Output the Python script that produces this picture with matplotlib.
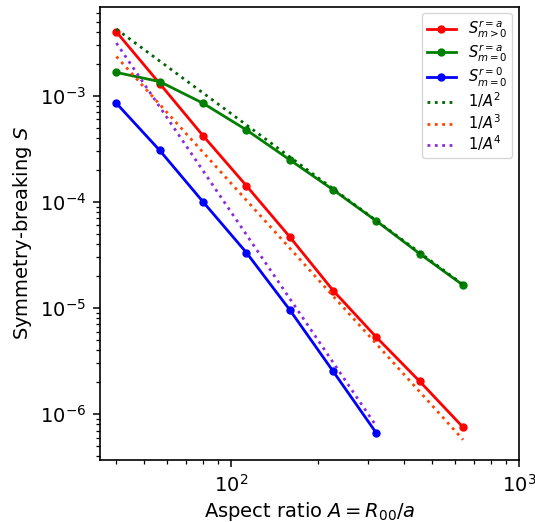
import numpy as np
import matplotlib
matplotlib.use("Agg")
import matplotlib.pyplot as plt

# aspect ratios (factor sqrt(2) steps)
A = np.array([40, 56.6, 80, 113.1, 160, 226.3, 320, 452.5, 640])

# symmetry-breaking measures
S_r_a_m_gt0 = [4.0e-3, 1.30e-3, 4.2e-4, 1.42e-4, 4.68e-5, 1.46e-5, 5.29e-6, 2.03e-6, 7.5e-7]
S_r_a_m0 = [1.66e-3, 1.36e-3, 8.5e-4, 4.77e-4, 2.49e-4, 1.30e-4, 6.6e-5, 3.24e-5, 1.64e-5]
S_r0_m0 = [8.5e-4, 3.05e-4, 1.0e-4, 3.33e-5, 9.6e-6, 2.53e-6, 6.6e-7]

# prefactors of the power-law guides
C2, C3, C4 = 6.8, 150.0, 8040.0

fig, ax = plt.subplots(figsize=(5.35, 5.22), dpi=100)
fig.subplots_adjust(left=0.187, right=0.970, bottom=0.119, top=0.987)

ax.loglog(A, S_r_a_m_gt0, '-o', color='red', lw=2, ms=5, label=r'$S^{r=a}_{m>0}$')
ax.loglog(A, S_r_a_m0, '-o', color='green', lw=2, ms=5, label=r'$S^{r=a}_{m=0}$')
ax.loglog(A[:len(S_r0_m0)], S_r0_m0, '-o', color='blue', lw=2, ms=5, label=r'$S^{r=0}_{m=0}$')

ax.loglog(A, C2 / A**2, ':', color='darkgreen', lw=2, label=r'$1/A^2$')
ax.loglog(A, C3 / A**3, ':', color='orangered', lw=2, label=r'$1/A^3$')
ax.loglog(A[:7], C4 / A[:7]**4, ':', color='blueviolet', lw=2, label=r'$1/A^4$')

ax.set_xlim(35.1, 1000)
ax.set_ylim(3.7e-7, 6.9e-3)
ax.tick_params(which='major', labelsize=14, length=5, width=1.1, pad=5)
ax.tick_params(which='minor', length=3, width=0.9)
for sp in ax.spines.values():
    sp.set_linewidth(1.2)
ax.set_xlabel(r'Aspect ratio $A = R_{00}/a$', fontsize=14, labelpad=3)
ax.set_ylabel(r'Symmetry-breaking $S$', fontsize=14)
ax.legend(loc='upper right', fontsize=10.5, labelspacing=0.12,
          borderpad=0.35, borderaxespad=0.45, handlelength=2.0)

plt.savefig('out.png', dpi=100)
